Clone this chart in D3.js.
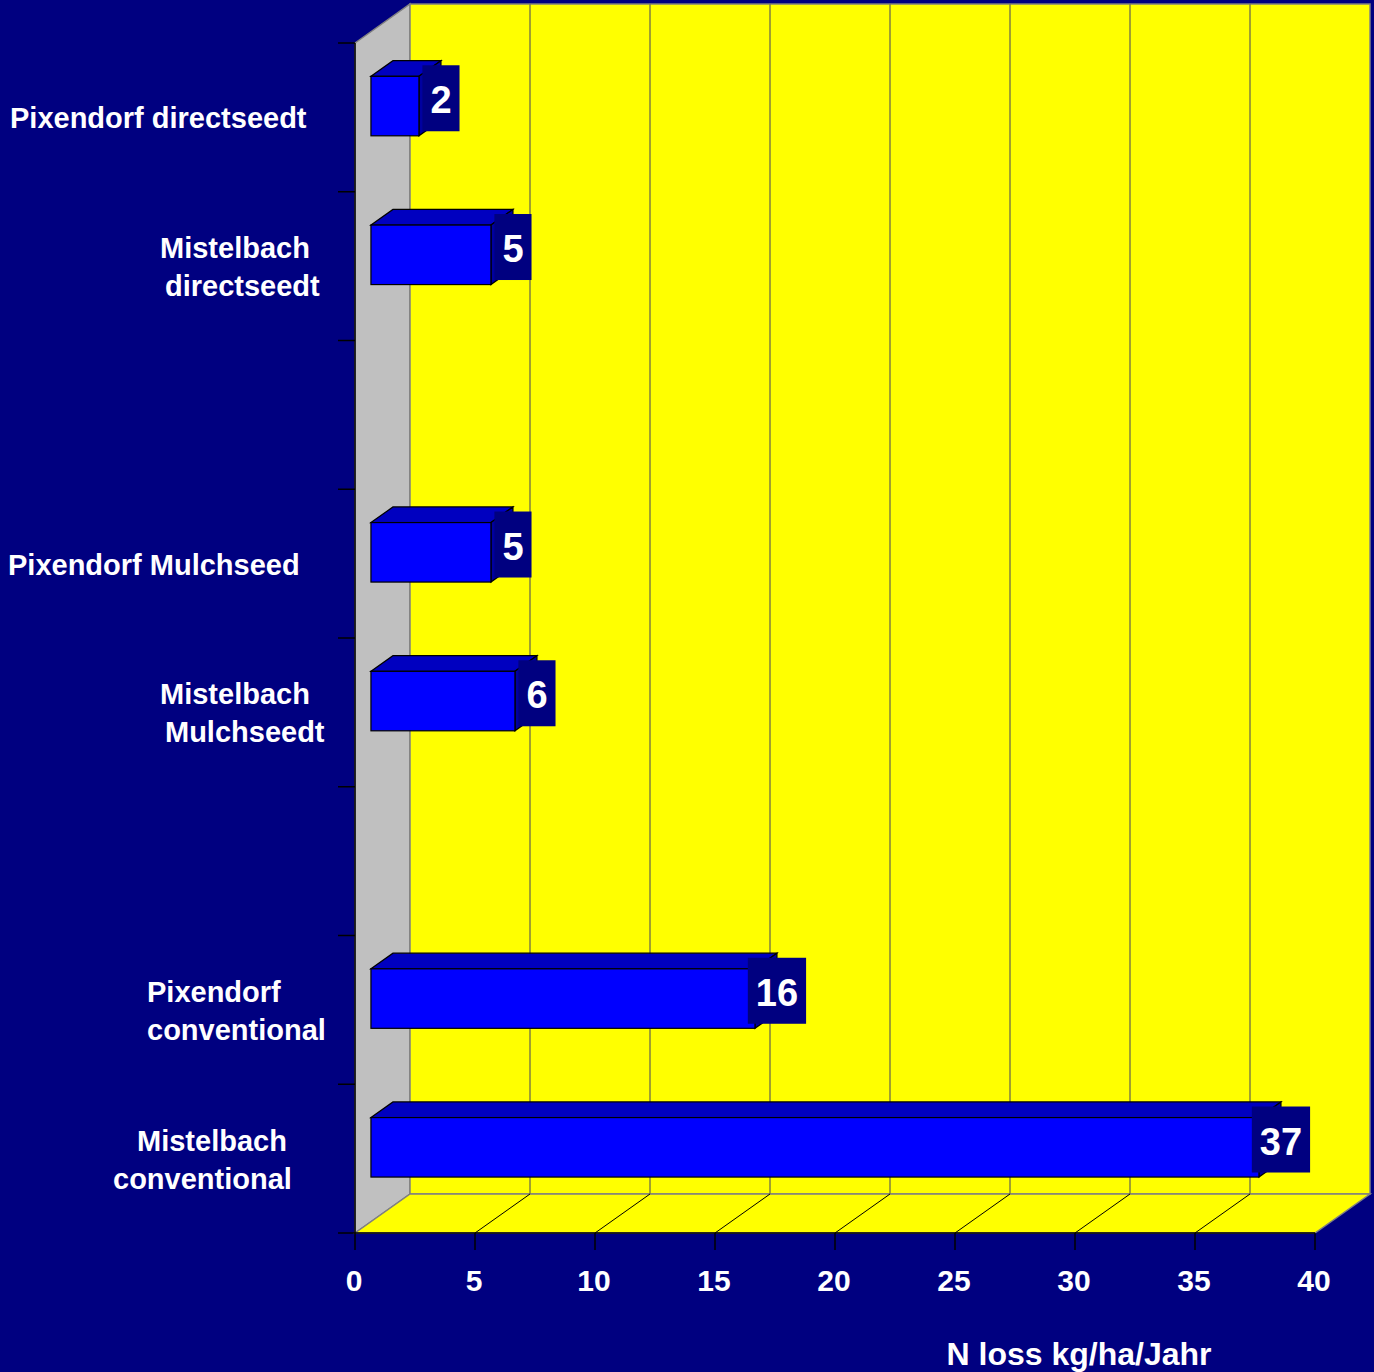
<!DOCTYPE html>
<html>
<head>
<meta charset="utf-8">
<script src="https://cdn.jsdelivr.net/npm/d3@7"></script>
<style>
  body { margin: 0; background: #000080; }
  text { font-family: Arial, 'Liberation Sans', sans-serif; font-weight: bold; fill: #fff; }
</style>
</head>
<body>
<div id="chart"></div>
<script>
// data
let categories = ['Pixendorf directseedt', 'Mistelbach directseedt', 'gap1',
	'Pixendorf Mulchseed', 'Mistelbach Mulchseedt', 'gap2',
	'Pixendorf conventional', 'Mistelbach conventional'];
let labelLines = [['Pixendorf directseedt'], ['Mistelbach', 'directseedt'], [],
	['Pixendorf Mulchseed'], ['Mistelbach', 'Mulchseedt'], [],
	['Pixendorf', 'conventional'], ['Mistelbach', 'conventional']];
let values = [2, 5, null, 5, 6, null, 16, 37];
let tickValues = [0, 5, 10, 15, 20, 25, 30, 35, 40];
let axisTitle = 'N loss kg/ha/Jahr';

// layout: left x of each label line
let labelX = [[10], [160, 165], [], [8], [160, 165], [], [147, 147], [137, 113]];

let width = 1374;
let height = 1372;
let depthX = 55, depthY = 39;   // 3d offset of back wall
let frontD = 0.29, backD = 0.69; // bar depth position (0 = front, 1 = back)

let svg = d3.select('#chart')
	.append('svg')
	.attr('width', width)
	.attr('height', height)

svg.append('rect')
	.attr('width', width)
	.attr('height', height)
	.attr('fill', '#000080')

let x = d3.scaleLinear().domain([0, 40]).range([355, 1315]);
let y = d3.scaleBand().domain(categories).range([43, 1233]).paddingInner(0).paddingOuter(0);

let x0 = x(0), x1 = x(40), yTop = y.range()[0], yBot = y.range()[1];

// walls
svg.append('path')
	.attr('d', `M${x0},${yTop}L${x0 + depthX},${yTop - depthY}L${x0 + depthX},${yBot - depthY}L${x0},${yBot}Z`)
	.attr('fill', '#c0c0c0')
	.attr('stroke', '#808080')
	.attr('stroke-width', 1.5)
svg.append('rect')
	.attr('x', x0 + depthX)
	.attr('y', yTop - depthY)
	.attr('width', x1 - x0)
	.attr('height', yBot - yTop)
	.attr('fill', '#ffff00')
	.attr('stroke', '#808080')
	.attr('stroke-width', 1.5)
svg.append('path')
	.attr('d', `M${x0},${yBot}L${x0 + depthX},${yBot - depthY}L${x1 + depthX},${yBot - depthY}L${x1},${yBot}Z`)
	.attr('fill', '#ffff00')
	.attr('stroke', '#808080')
	.attr('stroke-width', 1.5)

// gridlines
let grid = svg.append('g').attr('id', 'grid');
tickValues.slice(1, -1).forEach(function(v){
	grid.append('line')
		.attr('x1', x(v) + depthX).attr('x2', x(v) + depthX)
		.attr('y1', yTop - depthY).attr('y2', yBot - depthY)
		.attr('stroke', '#808040')
		.attr('stroke-width', 1.5)
	grid.append('line')
		.attr('x1', x(v)).attr('x2', x(v) + depthX)
		.attr('y1', yBot).attr('y2', yBot - depthY)
		.attr('stroke', '#000')
		.attr('stroke-width', 1)
})

// axes
let axes = svg.append('g').attr('id', 'axes');
axes.append('line')
	.attr('x1', x0).attr('x2', x0)
	.attr('y1', yTop).attr('y2', yBot)
	.attr('stroke', '#000').attr('stroke-width', 1.5)
axes.append('line')
	.attr('x1', x0).attr('x2', x1)
	.attr('y1', yBot).attr('y2', yBot)
	.attr('stroke', '#000').attr('stroke-width', 1.5)
for(let i = 0; i <= categories.length; i++){
	let yy = yTop + i * y.step();
	axes.append('line')
		.attr('x1', x0 - 17).attr('x2', x0)
		.attr('y1', yy).attr('y2', yy)
		.attr('stroke', '#000').attr('stroke-width', 1.5)
}
tickValues.forEach(function(v){
	axes.append('line')
		.attr('x1', x(v)).attr('x2', x(v))
		.attr('y1', yBot).attr('y2', yBot + 17)
		.attr('stroke', '#000').attr('stroke-width', 1.5)
	axes.append('text')
		.text(v)
		.attr('x', x(v) - 1)
		.attr('y', 1291)
		.attr('text-anchor', 'middle')
		.attr('font-size', 30)
})
axes.append('text')
	.text(axisTitle)
	.attr('x', 1079)
	.attr('y', 1365)
	.attr('text-anchor', 'middle')
	.attr('font-size', 32)

// category labels
categories.forEach(function(c, i){
	let lines = labelLines[i];
	let cy = y(c) + y.bandwidth() / 2;
	lines.forEach(function(l, j){
		svg.append('text')
			.text(l)
			.attr('x', labelX[i][j])
			.attr('y', cy + 11 - 19 * (lines.length - 1) + j * 38)
			.attr('font-size', 29)
	})
})

// bars
let bars = svg.append('g').attr('id', 'bars');
let barH = y.bandwidth() * 0.4;
categories.forEach(function(c, i){
	let v = values[i];
	if(v === null) return;
	let cy = y(c) + y.bandwidth() / 2;
	let fx0 = x(0) + depthX * frontD, fx1 = x(v) + depthX * frontD;
	let fy0 = cy - barH / 2 - depthY * frontD, fy1 = fy0 + barH;
	let ddx = depthX * (backD - frontD), ddy = depthY * (backD - frontD);

	bars.append('path')
		.attr('d', `M${fx0},${fy0}L${fx0 + ddx},${fy0 - ddy}L${fx1 + ddx},${fy0 - ddy}L${fx1},${fy0}Z`)
		.attr('fill', '#0000c0').attr('stroke', '#000').attr('stroke-width', 1.2)
	bars.append('path')
		.attr('d', `M${fx1},${fy0}L${fx1 + ddx},${fy0 - ddy}L${fx1 + ddx},${fy1 - ddy}L${fx1},${fy1}Z`)
		.attr('fill', '#0000a0').attr('stroke', '#000').attr('stroke-width', 1.2)
	bars.append('rect')
		.attr('x', fx0).attr('y', fy0)
		.attr('width', fx1 - fx0).attr('height', barH)
		.attr('fill', '#0000ff').attr('stroke', '#000').attr('stroke-width', 1.2)

	// value label box
	let bx = x(v) + depthX * backD;
	let by = cy - depthY * (frontD + backD) / 2;
	let lbl = bars.append('g');
	let t = lbl.append('text')
		.text(v)
		.attr('x', bx)
		.attr('y', by + 15)
		.attr('text-anchor', 'middle')
		.attr('font-size', 38)
	let tw = t.node().getComputedTextLength();
	lbl.insert('rect', 'text')
		.attr('x', bx - tw / 2 - 8)
		.attr('y', by - 33)
		.attr('width', tw + 16)
		.attr('height', 66)
		.attr('fill', '#000080')
})
</script>
</body>
</html>
